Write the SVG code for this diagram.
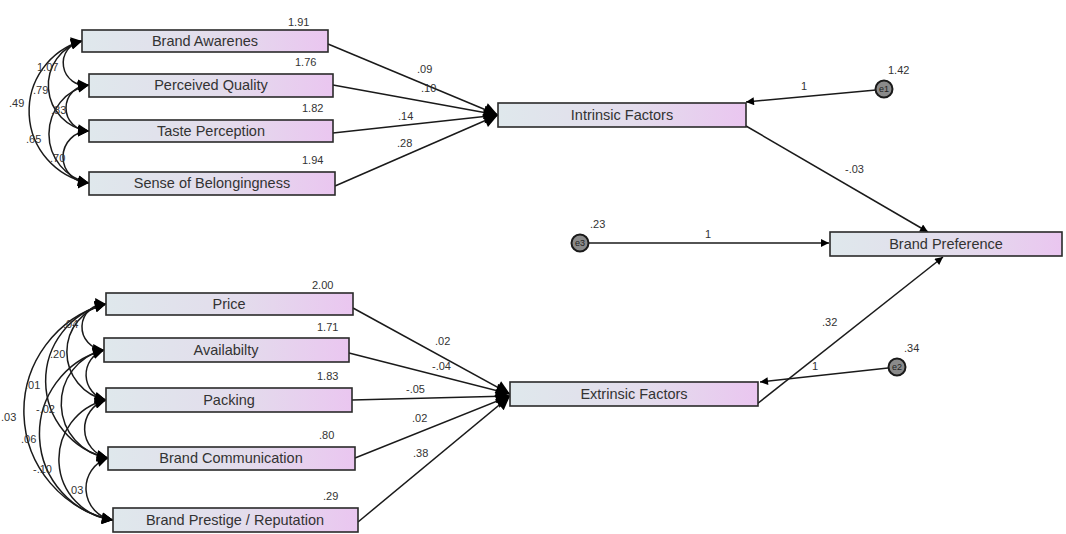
<svg xmlns="http://www.w3.org/2000/svg" width="1066" height="534" viewBox="0 0 1066 534">
<style>
.box{stroke:#2a2a2a;stroke-width:1.6;fill:url(#g)}
.lbl{font-family:"Liberation Sans",Arial,sans-serif;font-size:14.5px;fill:#333;text-anchor:middle}
.num{font-family:"Liberation Sans",Arial,sans-serif;font-size:11px;fill:#333}
.ln{stroke:#1a1a1a;stroke-width:1.5;fill:none}
.err{fill:#8a8a8a;stroke:#1a1a1a;stroke-width:2}
.et{font-family:"Liberation Sans",Arial,sans-serif;font-size:9px;fill:#222;text-anchor:middle}
</style>
<defs>
<linearGradient id="g" x1="0" y1="0" x2="1" y2="0">
<stop offset="0" stop-color="#dfe8ec"/>
<stop offset="0.55" stop-color="#e3dcec"/>
<stop offset="1" stop-color="#eac6f0"/>
</linearGradient>
<marker id="big" viewBox="0 0 10 10" refX="10" refY="5" markerWidth="18" markerHeight="14" markerUnits="userSpaceOnUse" orient="auto">
<path d="M0,0 L10,5 L0,10 z" fill="#000"/>
</marker>
<marker id="arr" viewBox="0 0 10 10" refX="10" refY="5" markerWidth="14" markerHeight="8" markerUnits="userSpaceOnUse" orient="auto">
<path d="M0,0 L10,5 L0,10 z" fill="#000"/>
</marker>
<marker id="cv" viewBox="0 0 10 10" refX="10" refY="5" markerWidth="15" markerHeight="11" markerUnits="userSpaceOnUse" orient="auto-start-reverse">
<path d="M0,0 L10,5 L0,10 z" fill="#000"/>
</marker>
</defs>
<rect width="1066" height="534" fill="#fff"/>
<g id="connectors">
<!-- top covariances -->
<path class="ln" marker-start="url(#cv)" marker-end="url(#cv)" d="M82,41 A22,22 0 0 0 89,85"/>
<path class="ln" marker-start="url(#cv)" marker-end="url(#cv)" d="M89,85 A23,23 0 0 0 89,131"/>
<path class="ln" marker-start="url(#cv)" marker-end="url(#cv)" d="M89,131 A26,26 0 0 0 89,183"/>
<path class="ln" marker-start="url(#cv)" marker-end="url(#cv)" d="M82,41 A46,46 0 0 0 89,131"/>
<path class="ln" marker-start="url(#cv)" marker-end="url(#cv)" d="M89,85 A50,50 0 0 0 89,183"/>
<path class="ln" marker-start="url(#cv)" marker-end="url(#cv)" d="M82,41 A73,73 0 0 0 89,183"/>
<!-- bottom covariances -->
<path class="ln" marker-start="url(#cv)" marker-end="url(#cv)" d="M106,304 A23,23 0 0 0 104,350"/>
<path class="ln" marker-start="url(#cv)" marker-end="url(#cv)" d="M106,304 A49,49 0 0 0 106,400"/>
<path class="ln" marker-start="url(#cv)" marker-end="url(#cv)" d="M106,304 A79,79 0 0 0 108,458"/>
<path class="ln" marker-start="url(#cv)" marker-end="url(#cv)" d="M106,304 A111,111 0 0 0 113,520"/>
<path class="ln" marker-start="url(#cv)" marker-end="url(#cv)" d="M104,350 A26,26 0 0 0 106,400"/>
<path class="ln" marker-start="url(#cv)" marker-end="url(#cv)" d="M104,350 A55,55 0 0 0 108,458"/>
<path class="ln" marker-start="url(#cv)" marker-end="url(#cv)" d="M104,350 A87,87 0 0 0 113,520"/>
<path class="ln" marker-start="url(#cv)" marker-end="url(#cv)" d="M106,400 A30,30 0 0 0 108,458"/>
<path class="ln" marker-start="url(#cv)" marker-end="url(#cv)" d="M106,400 A61,61 0 0 0 113,520"/>
<path class="ln" marker-start="url(#cv)" marker-end="url(#cv)" d="M108,458 A32,32 0 0 0 113,520"/>
<!-- intrinsic paths -->
<line class="ln" marker-end="url(#big)" x1="328" y1="44" x2="498" y2="115"/>
<line class="ln" marker-end="url(#big)" x1="333" y1="85" x2="498" y2="115"/>
<line class="ln" marker-end="url(#big)" x1="333" y1="133" x2="498" y2="115"/>
<line class="ln" marker-end="url(#big)" x1="335" y1="186" x2="498" y2="115"/>
<!-- extrinsic paths -->
<line class="ln" marker-end="url(#big)" x1="353" y1="308" x2="510" y2="394"/>
<line class="ln" marker-end="url(#big)" x1="349" y1="353" x2="510" y2="394"/>
<line class="ln" marker-end="url(#big)" x1="352" y1="400" x2="510" y2="396"/>
<line class="ln" marker-end="url(#big)" x1="355" y1="458" x2="510" y2="396"/>
<line class="ln" marker-end="url(#big)" x1="358" y1="522" x2="510" y2="396"/>
<!-- structural -->
<line class="ln" marker-end="url(#arr)" x1="876" y1="90" x2="746" y2="102"/>
<line class="ln" marker-end="url(#arr)" x1="746" y1="126" x2="928" y2="232"/>
<line class="ln" marker-end="url(#arr)" x1="589" y1="243" x2="829" y2="243"/>
<line class="ln" marker-end="url(#arr)" x1="757" y1="404" x2="943" y2="257"/>
<line class="ln" marker-end="url(#arr)" x1="888" y1="368" x2="760" y2="382"/>
</g>
<g id="labels">
<text class="num" x="37" y="71">1.07</text>
<text class="num" x="33" y="94">.79</text>
<text class="num" x="9" y="107">.49</text>
<text class="num" x="51" y="114">.83</text>
<text class="num" x="26" y="143">.65</text>
<text class="num" x="50" y="162">.70</text>
<text class="num" x="63" y="328">.04</text>
<text class="num" x="50" y="358">.20</text>
<text class="num" x="25" y="389">.01</text>
<text class="num" x="1" y="421">.03</text>
<text class="num" x="36" y="413">-.02</text>
<text class="num" x="21" y="443">.06</text>
<text class="num" x="33" y="473">-.10</text>
<text class="num" x="68" y="494">.03</text>
<text class="num" x="417" y="73">.09</text>
<text class="num" x="421" y="92">.10</text>
<text class="num" x="398" y="120">.14</text>
<text class="num" x="397" y="147">.28</text>
<text class="num" x="435" y="345">.02</text>
<text class="num" x="432" y="370">-.04</text>
<text class="num" x="406" y="393">-.05</text>
<text class="num" x="412" y="422">.02</text>
<text class="num" x="413" y="457">.38</text>
<text class="num" x="801" y="90">1</text>
<text class="num" x="845" y="173">-.03</text>
<text class="num" x="705" y="238">1</text>
<text class="num" x="822" y="326">.32</text>
<text class="num" x="812" y="370">1</text>
<text class="num" x="888" y="74">1.42</text>
<text class="num" x="590" y="228">.23</text>
<text class="num" x="904" y="352">.34</text>
<text class="num" x="288" y="26">1.91</text>
<text class="num" x="295" y="66">1.76</text>
<text class="num" x="302" y="112">1.82</text>
<text class="num" x="302" y="164">1.94</text>
<text class="num" x="312" y="289">2.00</text>
<text class="num" x="317" y="331">1.71</text>
<text class="num" x="317" y="380">1.83</text>
<text class="num" x="319" y="439">.80</text>
<text class="num" x="323" y="500">.29</text>
</g>
<g id="n-brand-awarenes"><rect class="box" x="82" y="30" width="246" height="22"/><text class="lbl" x="205" y="46">Brand Awarenes</text></g>
<g id="n-perceived-quality"><rect class="box" x="89" y="74" width="244" height="23"/><text class="lbl" x="211" y="90">Perceived Quality</text></g>
<g id="n-taste-perception"><rect class="box" x="89" y="120" width="244" height="22"/><text class="lbl" x="211" y="136">Taste Perception</text></g>
<g id="n-sense-of-belongingness"><rect class="box" x="89" y="172" width="246" height="23"/><text class="lbl" x="212" y="188">Sense of Belongingness</text></g>
<g id="n-intrinsic"><rect class="box" x="498" y="103" width="248" height="24"/><text class="lbl" x="622" y="120">Intrinsic Factors</text></g>
<g id="n-brand-preference"><rect class="box" x="830" y="232" width="232" height="24"/><text class="lbl" x="946" y="249">Brand Preference</text></g>
<g id="n-price"><rect class="box" x="106" y="293" width="247" height="22"/><text class="lbl" x="229" y="309">Price</text></g>
<g id="n-availabilty"><rect class="box" x="104" y="338" width="245" height="24"/><text class="lbl" x="226" y="355">Availabilty</text></g>
<g id="n-packing"><rect class="box" x="106" y="388" width="246" height="24"/><text class="lbl" x="229" y="405">Packing</text></g>
<g id="n-brand-communication"><rect class="box" x="108" y="447" width="247" height="23"/><text class="lbl" x="231" y="463">Brand Communication</text></g>
<g id="n-brand-prestige"><rect class="box" x="113" y="508" width="245" height="24"/><text class="lbl" x="235" y="525">Brand Prestige / Reputation</text></g>
<g id="n-extrinsic"><rect class="box" x="510" y="382" width="248" height="24"/><text class="lbl" x="634" y="399">Extrinsic Factors</text></g>
<g id="n-e1"><circle class="err" cx="884" cy="89" r="8.5"/><text class="et" x="884" y="92">e1</text></g>
<g id="n-e3"><circle class="err" cx="580" cy="243" r="8.5"/><text class="et" x="580" y="246">e3</text></g>
<g id="n-e2"><circle class="err" cx="897" cy="367" r="8.5"/><text class="et" x="897" y="370">e2</text></g>
</svg>
